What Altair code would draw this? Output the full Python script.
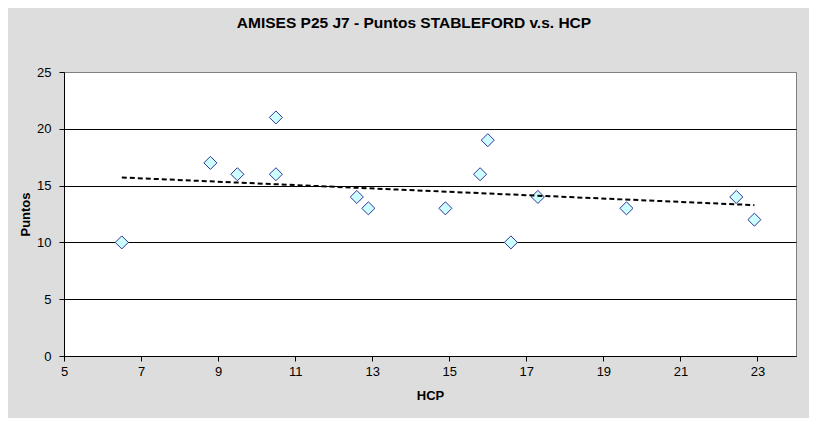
import altair as alt
import pandas as pd

# Data
hcp = [6.5, 8.8, 9.5, 10.5, 10.5, 12.6, 12.9, 14.9, 15.8, 16.0, 16.6, 17.3, 19.6, 22.45, 22.92]
puntos = [10, 17, 16, 21, 16, 14, 13, 13, 16, 19, 10, 14, 13, 14, 12]
x_ticks = [5, 7, 9, 11, 13, 15, 17, 19, 21, 23]
y_ticks = [0, 5, 10, 15, 20, 25]

df = pd.DataFrame({"HCP": hcp, "Puntos": puntos})

FONT = "Liberation Sans"

x_enc = alt.X(
    "HCP:Q",
    title="HCP",
    scale=alt.Scale(domain=[5, 24], nice=False, zero=False),
    axis=alt.Axis(
        values=x_ticks, grid=False, domainColor="black", tickColor="black",
        tickSize=5, labelFontSize=13, labelColor="black", labelFont=FONT,
        labelPadding=4, titleFont=FONT, titleFontSize=13, titleFontWeight="bold",
        titleColor="black", titlePadding=11, labelFlush=False,
    ),
)
y_enc = alt.Y(
    "Puntos:Q",
    title="Puntos",
    scale=alt.Scale(domain=[0, 25], nice=False),
    axis=alt.Axis(
        values=y_ticks, grid=True,
        gridColor=alt.condition("datum.value == 25", alt.value("#808080"), alt.value("black")),
        gridOpacity=1, gridWidth=1,
        domainColor="black", tickColor="black", tickSize=5, labelFontSize=13,
        labelColor="black", labelFont=FONT, labelPadding=8, titleFont=FONT,
        titleFontSize=13, titleFontWeight="bold", titleColor="black", titlePadding=4,
    ),
)

base = alt.Chart(df)

points = base.mark_point(
    shape="diamond", filled=True, fill="#CCFFFF", stroke="#333399",
    strokeWidth=1, size=170, opacity=1,
).encode(x=x_enc, y=y_enc)

trend = base.transform_regression("HCP", "Puntos").mark_line(
    color="black", strokeDash=[5, 3], strokeWidth=2,
).encode(x=x_enc, y=y_enc)

chart = alt.layer(points, trend).properties(
    width=732,
    height=284,
    title=alt.TitleParams(
        "AMISES P25 J7 - Puntos STABLEFORD v.s. HCP",
        font=FONT, fontSize=15.5, fontWeight="bold", color="black",
        anchor="middle", dx=-16, offset=35, frame="group",
    ),
    background="#DDDDDD",
    padding={"left": 56, "top": 64, "right": 13, "bottom": 62},
    autosize=alt.AutoSizeParams(type="none"),
).configure_view(
    fill="white", stroke="#808080", strokeWidth=1,
)

chart.save("out.html", embed_options={"renderer": "svg", "actions": False})
